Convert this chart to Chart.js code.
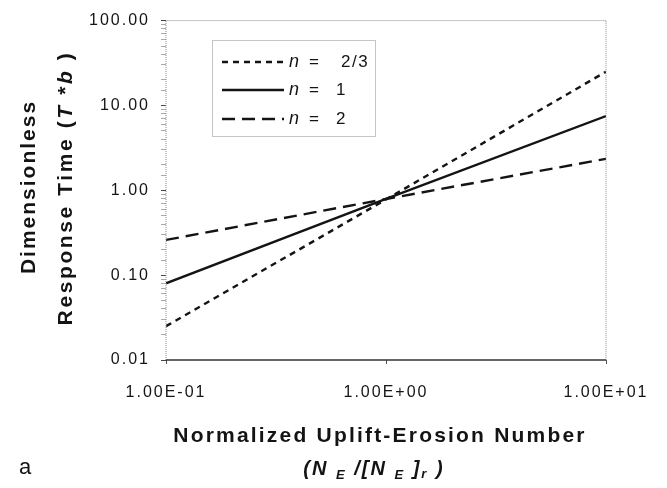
<!DOCTYPE html>
<html>
<head>
<meta charset="utf-8">
<script src="https://cdn.jsdelivr.net/npm/chart.js@4.4.1/dist/chart.umd.min.js"></script>
<style>
  html,body{margin:0;padding:0;background:#fff;}
  #wrap{width:667px;height:488px;}
</style>
</head>
<body>
<div id="wrap"><canvas id="chart" width="667" height="488"></canvas></div>
<script>
// ------------------ DATA ------------------
const xValues = [0.1, 1, 10];               // normalized uplift-erosion number
const seriesNames = ["2/3", "1", "2"];      // n values
const n23 = [0.025, 0.78, 25];
const n1 = [0.08, 0.79, 7.5];
const n2 = [0.26, 0.79, 2.35];
const yTickValues = [0.01, 0.1, 1, 10, 100];
const xTickValues = [0.1, 1, 10];

const FONT = "'Liberation Sans', Arial, Helvetica, sans-serif";
const INK = "#141414";

const isDecade = v => Math.abs(Math.log10(v) - Math.round(Math.log10(v))) < 1e-6;
const inList = (list, v) => list.some(t => Math.abs(Math.log10(t) - Math.log10(v)) < 1e-6);

function fmtE(v){
  const e = Math.round(Math.log10(v));
  const m = (v / Math.pow(10, e)).toFixed(2);
  return m + "E" + (e < 0 ? "-" : "+") + String(Math.abs(e)).padStart(2, "0");
}

function toPoints(ys){ return xValues.map((x, i) => ({x: x, y: ys[i]})); }

function setLS(ctx, px){ if ("letterSpacing" in ctx) ctx.letterSpacing = px + "px"; }

// draw a run of [text, font, dy] pieces centred on x
function drawRuns(ctx, runs, x, y, ls){
  setLS(ctx, ls);
  let w = 0;
  runs.forEach(r => { ctx.font = r[1]; w += ctx.measureText(r[0]).width; });
  let cx = x - w / 2;
  ctx.textAlign = "left";
  runs.forEach(r => {
    ctx.font = r[1];
    ctx.fillText(r[0], cx, y + (r[2] || 0));
    cx += ctx.measureText(r[0]).width;
  });
}

// ------------------ PLUGINS ------------------
const spacingPlugin = {
  id: "spacing",
  beforeDraw(chart){ setLS(chart.ctx, 2); }
};

const framePlugin = {
  id: "frame",
  afterDatasetsDraw(chart){
    const {ctx, chartArea: a} = chart;
    ctx.save();
    ctx.strokeStyle = "#8a8a8a";
    ctx.lineWidth = 1;
    ctx.setLineDash([1, 1]);
    ctx.beginPath();
    ctx.moveTo(a.left, a.bottom); ctx.lineTo(a.left, a.top);
    ctx.lineTo(a.right, a.top); ctx.lineTo(a.right, a.bottom);
    ctx.stroke();
    ctx.setLineDash([]);
    ctx.strokeStyle = "#333";
    ctx.lineWidth = 1.5;
    ctx.beginPath();
    ctx.moveTo(a.left, a.bottom); ctx.lineTo(a.right, a.bottom);
    ctx.stroke();
    ctx.restore();
  }
};

const legendPlugin = {
  id: "boxLegend",
  afterDraw(chart){
    const ctx = chart.ctx;
    const bx = 212, by = 40, bw = 163, bh = 96;
    const rows = [62, 90, 119];
    ctx.save();
    ctx.fillStyle = "#fff";
    ctx.fillRect(bx, by, bw, bh);
    ctx.strokeStyle = "#8a8a8a";
    ctx.lineWidth = 1;
    ctx.setLineDash([1, 1]);
    ctx.strokeRect(bx + 0.5, by + 0.5, bw, bh);
    chart.data.datasets.forEach((ds, i) => {
      const y = rows[i];
      ctx.strokeStyle = ds.borderColor;
      ctx.lineWidth = ds.borderWidth;
      ctx.setLineDash(ds.borderDash || []);
      ctx.beginPath();
      ctx.moveTo(222, y); ctx.lineTo(284, y);
      ctx.stroke();
      ctx.setLineDash([]);
      ctx.fillStyle = INK;
      ctx.textBaseline = "middle";
      ctx.textAlign = "left";
      setLS(ctx, 1.5);
      ctx.font = "italic 18px " + FONT;
      ctx.fillText("n", 289, y);
      ctx.font = "17px " + FONT;
      ctx.fillText("=", 309, y);
      ctx.fillText(seriesNames[i], i === 0 ? 341 : 336, y);
    });
    ctx.restore();
  }
};

const titlePlugin = {
  id: "titles",
  afterDraw(chart){
    const ctx = chart.ctx;
    const B = "bold 21px " + FONT, BI = "bold italic 21px " + FONT;
    const I = "bold italic 20px " + FONT, IS = "bold italic 13px " + FONT;
    ctx.save();
    ctx.fillStyle = INK;
    ctx.textBaseline = "alphabetic";
    // y title
    ctx.save();
    ctx.translate(35, 187);
    ctx.rotate(-Math.PI / 2);
    drawRuns(ctx, [["Dimensionless", B]], 0, 0, 2);
    ctx.restore();
    ctx.save();
    ctx.translate(72, 188);
    ctx.rotate(-Math.PI / 2);
    drawRuns(ctx, [["Response Time (", B], ["T", BI], [" *", B], ["b", BI], [" )", B]], 0, 0, 2.6);
    ctx.restore();
    // x title
    drawRuns(ctx, [["Normalized Uplift-Erosion Number", B]], 380, 442, 2.2);
    drawRuns(ctx, [["(N ", I], ["E", IS, 4], [" /[N ", I], ["E", IS, 4], [" ]", I], ["r", IS, 3], [" )", I]], 374, 475, 2);
    // panel letter
    setLS(ctx, 0);
    ctx.font = "22px " + FONT;
    ctx.textAlign = "left";
    ctx.fillText("a", 19, 474);
    ctx.restore();
  }
};

// ------------------ CHART ------------------
const lineStyle = {fill: false, borderColor: INK, borderWidth: 2.4, pointRadius: 0, tension: 0};

new Chart(document.getElementById("chart").getContext("2d"), {
  type: "line",
  data: {
    datasets: [
      Object.assign({label: "n = " + seriesNames[0], data: toPoints(n23), borderDash: [6, 5]}, lineStyle),
      Object.assign({label: "n = " + seriesNames[1], data: toPoints(n1), borderDash: []}, lineStyle),
      Object.assign({label: "n = " + seriesNames[2], data: toPoints(n2), borderDash: [13, 7]}, lineStyle)
    ]
  },
  options: {
    responsive: false,
    animation: false,
    devicePixelRatio: 1,
    layout: {padding: {top: 16, right: 61, left: 0, bottom: 0}},
    plugins: {legend: {display: false}, tooltip: {enabled: false}},
    scales: {
      x: {
        type: "logarithmic",
        min: 0.1, max: 10,
        afterFit: s => { s.height = 128; },
        border: {display: false},
        grid: {
          drawOnChartArea: false, tickLength: 4,
          color: "#555"
        },
        ticks: {
          autoSkip: false, maxRotation: 0, padding: 19,
          color: INK,
          font: {family: FONT, size: 16},
          callback: v => inList(xTickValues, v) ? fmtE(v) : null
        }
      },
      y: {
        type: "logarithmic",
        min: 0.01, max: 100,
        afterFit: s => { s.width = 166; },
        border: {display: false},
        grid: {
          drawOnChartArea: false, tickLength: 5,
          color: ctx => (ctx.tick && isDecade(ctx.tick.value)) ? "#444" : "#aaa"
        },
        ticks: {
          autoSkip: false, padding: 11,
          color: INK,
          font: {family: FONT, size: 16},
          callback: v => inList(yTickValues, v) ? v.toFixed(2) : ""
        }
      }
    }
  },
  plugins: [spacingPlugin, framePlugin, legendPlugin, titlePlugin]
});
</script>
</body>
</html>
